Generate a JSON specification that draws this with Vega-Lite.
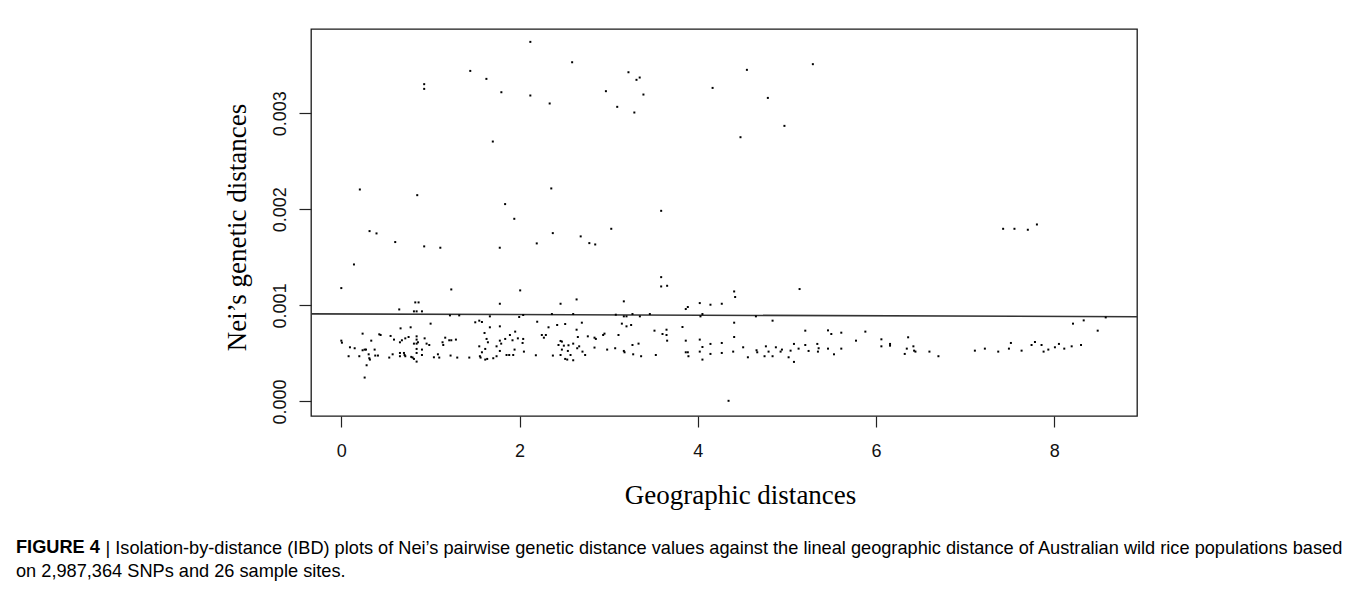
{
  "$schema": "https://vega.github.io/schema/vega-lite/v6.json",
  "autosize": {"type": "none"},
  "padding": {"left": 311, "top": 29, "right": 221, "bottom": 173},
  "width": 826,
  "height": 387,
  "background": "#ffffff",
  "title": {
    "text": "FIGURE 4",
    "subtitle": "on 2,987,364 SNPs and 26 sample sites.",
    "orient": "bottom",
    "anchor": "start",
    "frame": "group",
    "offset": -18,
    "dx": -295,
    "font": "Liberation Sans",
    "fontSize": 18.2,
    "fontWeight": "bold",
    "color": "#000000",
    "subtitleFont": "Liberation Sans",
    "subtitleFontSize": 18.2,
    "subtitleFontWeight": "normal",
    "subtitleColor": "#000000",
    "subtitlePadding": 5.8
  },
  "datasets": {
    "pts": [
      {"g": 2.121, "n": 0.003742}, {"g": 2.590, "n": 0.00353}, {"g": 1.447, "n": 0.00344}, {"g": 1.628, "n": 0.003357},
      {"g": 0.930, "n": 0.003302}, {"g": 0.930, "n": 0.003253}, {"g": 1.796, "n": 0.003218}, {"g": 2.121, "n": 0.003184},
      {"g": 2.338, "n": 0.003101}, {"g": 3.222, "n": 0.003426}, {"g": 3.312, "n": 0.003347}, {"g": 3.348, "n": 0.003371},
      {"g": 2.969, "n": 0.003229}, {"g": 3.390, "n": 0.003194}, {"g": 3.096, "n": 0.003066}, {"g": 3.288, "n": 0.003007},
      {"g": 4.166, "n": 0.003263}, {"g": 4.551, "n": 0.003451}, {"g": 5.291, "n": 0.00351}, {"g": 4.786, "n": 0.003159},
      {"g": 4.972, "n": 0.002868}, {"g": 4.479, "n": 0.00275}, {"g": 1.700, "n": 0.002705}, {"g": 0.208, "n": 0.002206},
      {"g": 0.852, "n": 0.002147}, {"g": 2.356, "n": 0.002217}, {"g": 3.589, "n": 0.001984}, {"g": 1.838, "n": 0.002054},
      {"g": 1.941, "n": 0.001901}, {"g": 0.317, "n": 0.001773}, {"g": 0.395, "n": 0.001749}, {"g": 0.605, "n": 0.001659},
      {"g": 0.930, "n": 0.001614}, {"g": 1.111, "n": 0.0016}, {"g": 1.778, "n": 0.0016}, {"g": 2.193, "n": 0.001645},
      {"g": 2.373, "n": 0.001752}, {"g": 2.686, "n": 0.001718}, {"g": 2.783, "n": 0.001648}, {"g": 2.849, "n": 0.001634},
      {"g": 3.029, "n": 0.001797}, {"g": 7.426, "n": 0.001797}, {"g": 7.553, "n": 0.001797}, {"g": 7.703, "n": 0.001787},
      {"g": 7.805, "n": 0.001842}, {"g": 0.142, "n": 0.001426},
      {"g": 0.0, "n": 0.00118}, {"g": 0.0, "n": 0.000633}, {"g": 0.007, "n": 0.000612}, {"g": 0.082, "n": 0.000471},
      {"g": 0.097, "n": 0.000564}, {"g": 0.150, "n": 0.000554}, {"g": 0.202, "n": 0.000471}, {"g": 0.239, "n": 0.000706},
      {"g": 0.239, "n": 0.000533}, {"g": 0.262, "n": 0.00054}, {"g": 0.277, "n": 0.00054}, {"g": 0.284, "n": 0.000377},
      {"g": 0.262, "n": 0.000249}, {"g": 0.307, "n": 0.000491}, {"g": 0.314, "n": 0.00045}, {"g": 0.321, "n": 0.000436},
      {"g": 0.336, "n": 0.000633}, {"g": 0.374, "n": 0.00054}, {"g": 0.381, "n": 0.000478}, {"g": 0.411, "n": 0.000478},
      {"g": 0.426, "n": 0.000699}, {"g": 0.441, "n": 0.000692}, {"g": 0.538, "n": 0.000457}, {"g": 0.553, "n": 0.000682},
      {"g": 0.576, "n": 0.000491}, {"g": 0.591, "n": 0.000644}, {"g": 0.650, "n": 0.000958}, {"g": 0.658, "n": 0.000616},
      {"g": 0.665, "n": 0.000761}, {"g": 0.658, "n": 0.000505}, {"g": 0.658, "n": 0.000471}, {"g": 0.680, "n": 0.000637},
      {"g": 0.703, "n": 0.000505}, {"g": 0.710, "n": 0.000484}, {"g": 0.718, "n": 0.000471}, {"g": 0.718, "n": 0.000657},
      {"g": 0.755, "n": 0.000671}, {"g": 0.778, "n": 0.000772}, {"g": 0.785, "n": 0.000464}, {"g": 0.800, "n": 0.000457},
      {"g": 0.815, "n": 0.000443}, {"g": 0.830, "n": 0.001031}, {"g": 0.867, "n": 0.001031}, {"g": 0.815, "n": 0.000938},
      {"g": 0.845, "n": 0.000938}, {"g": 0.905, "n": 0.000938}, {"g": 0.815, "n": 0.000602}, {"g": 0.845, "n": 0.000602},
      {"g": 0.845, "n": 0.000678}, {"g": 0.845, "n": 0.000644}, {"g": 0.845, "n": 0.000547}, {"g": 0.845, "n": 0.000505},
      {"g": 0.845, "n": 0.000415}, {"g": 0.860, "n": 0.000616}, {"g": 0.905, "n": 0.00054}, {"g": 0.905, "n": 0.000484},
      {"g": 0.935, "n": 0.000657}, {"g": 0.957, "n": 0.000602}, {"g": 0.987, "n": 0.000588}, {"g": 1.002, "n": 0.00081},
      {"g": 1.039, "n": 0.00046}, {"g": 1.084, "n": 0.000491}, {"g": 1.099, "n": 0.000457}, {"g": 1.136, "n": 0.000616},
      {"g": 1.144, "n": 0.000588}, {"g": 1.166, "n": 0.000664}, {"g": 1.211, "n": 0.000637}, {"g": 1.234, "n": 0.000637},
      {"g": 1.286, "n": 0.000644}, {"g": 1.226, "n": 0.000478}, {"g": 1.234, "n": 0.001166}, {"g": 1.219, "n": 0.000896},
      {"g": 1.323, "n": 0.000896}, {"g": 1.301, "n": 0.000457}, {"g": 1.436, "n": 0.000457}, {"g": 1.503, "n": 0.000824},
      {"g": 1.548, "n": 0.000841}, {"g": 1.578, "n": 0.000827}, {"g": 1.607, "n": 0.000713}, {"g": 1.645, "n": 0.000616},
      {"g": 1.667, "n": 0.000772}, {"g": 1.667, "n": 0.000886}, {"g": 1.630, "n": 0.000651}, {"g": 1.615, "n": 0.000547},
      {"g": 1.548, "n": 0.000574}, {"g": 1.578, "n": 0.000512}, {"g": 1.555, "n": 0.000471}, {"g": 1.563, "n": 0.000457},
      {"g": 1.615, "n": 0.000436}, {"g": 1.637, "n": 0.000443}, {"g": 1.705, "n": 0.00045}, {"g": 1.742, "n": 0.000471},
      {"g": 1.742, "n": 0.000574}, {"g": 1.779, "n": 0.001017}, {"g": 1.779, "n": 0.000782}, {"g": 1.779, "n": 0.000633},
      {"g": 1.779, "n": 0.000526}, {"g": 1.794, "n": 0.000602}, {"g": 1.839, "n": 0.000651}, {"g": 1.854, "n": 0.000484},
      {"g": 1.884, "n": 0.000484}, {"g": 1.929, "n": 0.000484}, {"g": 1.892, "n": 0.000692}, {"g": 1.921, "n": 0.000637},
      {"g": 1.951, "n": 0.000727}, {"g": 1.944, "n": 0.00054}, {"g": 1.981, "n": 0.000657}, {"g": 2.007, "n": 0.001156},
      {"g": 1.996, "n": 0.000879}, {"g": 2.041, "n": 0.0009}, {"g": 2.034, "n": 0.000609}, {"g": 2.041, "n": 0.000651},
      {"g": 2.049, "n": 0.000519}, {"g": 2.183, "n": 0.000481}, {"g": 2.198, "n": 0.00083}, {"g": 2.250, "n": 0.000692},
      {"g": 2.273, "n": 0.000664}, {"g": 2.295, "n": 0.000692}, {"g": 2.325, "n": 0.000772}, {"g": 2.363, "n": 0.00091},
      {"g": 2.374, "n": 0.000478}, {"g": 2.422, "n": 0.000796}, {"g": 2.460, "n": 0.001017}, {"g": 2.437, "n": 0.000588},
      {"g": 2.460, "n": 0.00063}, {"g": 2.475, "n": 0.000623}, {"g": 2.460, "n": 0.000484}, {"g": 2.475, "n": 0.00054},
      {"g": 2.497, "n": 0.000581}, {"g": 2.512, "n": 0.000806}, {"g": 2.512, "n": 0.000443}, {"g": 2.535, "n": 0.000436},
      {"g": 2.542, "n": 0.000526}, {"g": 2.549, "n": 0.000585}, {"g": 2.572, "n": 0.000484}, {"g": 2.602, "n": 0.00091},
      {"g": 2.602, "n": 0.000602}, {"g": 2.602, "n": 0.000429}, {"g": 2.640, "n": 0.001062}, {"g": 2.640, "n": 0.000747},
      {"g": 2.647, "n": 0.000554}, {"g": 2.654, "n": 0.000671}, {"g": 2.669, "n": 0.000574}, {"g": 2.699, "n": 0.00082},
      {"g": 2.706, "n": 0.000519}, {"g": 2.736, "n": 0.000484}, {"g": 2.766, "n": 0.000678}, {"g": 2.841, "n": 0.000664},
      {"g": 2.856, "n": 0.000651}, {"g": 2.841, "n": 0.000561}, {"g": 2.938, "n": 0.000692}, {"g": 2.953, "n": 0.000706},
      {"g": 2.983, "n": 0.00054}, {"g": 3.073, "n": 0.000554}, {"g": 3.080, "n": 0.000903}, {"g": 3.110, "n": 0.000692},
      {"g": 3.148, "n": 0.00081}, {"g": 3.170, "n": 0.001042}, {"g": 3.170, "n": 0.000886}, {"g": 3.200, "n": 0.000886},
      {"g": 3.170, "n": 0.000526}, {"g": 3.178, "n": 0.000512}, {"g": 3.200, "n": 0.000782}, {"g": 3.252, "n": 0.000796},
      {"g": 3.267, "n": 0.00091}, {"g": 3.267, "n": 0.000588}, {"g": 3.275, "n": 0.000491}, {"g": 3.335, "n": 0.000602},
      {"g": 3.350, "n": 0.000886}, {"g": 3.364, "n": 0.000471}, {"g": 3.462, "n": 0.00091}, {"g": 3.514, "n": 0.000737},
      {"g": 3.529, "n": 0.000484}, {"g": 3.589, "n": 0.001294}, {"g": 3.589, "n": 0.001197}, {"g": 3.656, "n": 0.001204},
      {"g": 3.604, "n": 0.000702}, {"g": 3.649, "n": 0.000747}, {"g": 3.649, "n": 0.000692}, {"g": 3.656, "n": 0.000633},
      {"g": 3.828, "n": 0.000775}, {"g": 3.865, "n": 0.000962}, {"g": 3.888, "n": 0.000983}, {"g": 3.865, "n": 0.000633},
      {"g": 3.865, "n": 0.000512}, {"g": 3.888, "n": 0.000512}, {"g": 3.895, "n": 0.000471}, {"g": 4.022, "n": 0.001024},
      {"g": 4.030, "n": 0.000886}, {"g": 4.052, "n": 0.00091}, {"g": 4.022, "n": 0.000644}, {"g": 4.022, "n": 0.000519},
      {"g": 4.052, "n": 0.000567}, {"g": 4.052, "n": 0.000436}, {"g": 4.142, "n": 0.001007}, {"g": 4.142, "n": 0.000599},
      {"g": 4.142, "n": 0.000495}, {"g": 4.269, "n": 0.001017}, {"g": 4.269, "n": 0.000609}, {"g": 4.269, "n": 0.000505},
      {"g": 4.345, "n": 0.000007}, {"g": 4.397, "n": 0.000519}, {"g": 4.408, "n": 0.001145}, {"g": 4.419, "n": 0.001087},
      {"g": 4.408, "n": 0.00082}, {"g": 4.408, "n": 0.000671}, {"g": 4.509, "n": 0.000564}, {"g": 4.562, "n": 0.00046},
      {"g": 4.652, "n": 0.000886}, {"g": 4.659, "n": 0.000533}, {"g": 4.667, "n": 0.000512}, {"g": 4.749, "n": 0.000471},
      {"g": 4.764, "n": 0.000574}, {"g": 4.794, "n": 0.000519}, {"g": 4.839, "n": 0.000841}, {"g": 4.839, "n": 0.000471},
      {"g": 4.876, "n": 0.000564}, {"g": 4.929, "n": 0.000519}, {"g": 4.944, "n": 0.00054}, {"g": 5.019, "n": 0.00046},
      {"g": 5.041, "n": 0.000529}, {"g": 5.079, "n": 0.000599}, {"g": 5.079, "n": 0.000412}, {"g": 5.131, "n": 0.00055},
      {"g": 5.142, "n": 0.00117}, {"g": 5.206, "n": 0.000737}, {"g": 5.206, "n": 0.000588}, {"g": 5.243, "n": 0.000526},
      {"g": 5.341, "n": 0.000599}, {"g": 5.348, "n": 0.000519}, {"g": 5.356, "n": 0.000554}, {"g": 5.461, "n": 0.00074},
      {"g": 5.498, "n": 0.000702}, {"g": 5.461, "n": 0.00055}, {"g": 5.528, "n": 0.000491}, {"g": 5.610, "n": 0.000716},
      {"g": 5.610, "n": 0.00055}, {"g": 5.775, "n": 0.000633}, {"g": 5.880, "n": 0.000727}, {"g": 6.060, "n": 0.000647},
      {"g": 6.060, "n": 0.000574}, {"g": 6.157, "n": 0.000599}, {"g": 6.157, "n": 0.000581}, {"g": 6.322, "n": 0.000495},
      {"g": 6.345, "n": 0.00055}, {"g": 6.360, "n": 0.000668}, {"g": 6.419, "n": 0.000574}, {"g": 6.427, "n": 0.000529},
      {"g": 6.442, "n": 0.000519}, {"g": 6.599, "n": 0.000519}, {"g": 6.700, "n": 0.000471}, {"g": 7.109, "n": 0.000529},
      {"g": 7.221, "n": 0.00055}, {"g": 7.371, "n": 0.000519}, {"g": 7.491, "n": 0.00055}, {"g": 7.513, "n": 0.000609},
      {"g": 7.633, "n": 0.000529}, {"g": 7.745, "n": 0.000588}, {"g": 7.783, "n": 0.000619}, {"g": 7.857, "n": 0.000588},
      {"g": 7.880, "n": 0.000519}, {"g": 7.933, "n": 0.00054}, {"g": 8.007, "n": 0.000564}, {"g": 8.052, "n": 0.000599},
      {"g": 8.112, "n": 0.00055}, {"g": 8.195, "n": 0.000574}, {"g": 8.210, "n": 0.00081}, {"g": 8.300, "n": 0.000588},
      {"g": 8.330, "n": 0.000844}, {"g": 8.487, "n": 0.000737}, {"g": 8.577, "n": 0.000875}
    ],
    "fit": [
      {"g": -0.34, "n": 0.000912},
      {"g": 8.928, "n": 0.000882}
    ]
  },
  "resolve": {"axis": {"x": "independent"}},
  "layer": [
    {
      "data": {"name": "fit"},
      "mark": {"type": "line", "color": "#333333", "strokeWidth": 1.6, "clip": true},
      "encoding": {
        "x": {
          "field": "g", "type": "quantitative",
          "axis": {
            "orient": "bottom",
            "labels": false, "ticks": false, "domain": false,
            "title": "| Isolation-by-distance (IBD) plots of Nei’s pairwise genetic distance values against the lineal geographic distance of Australian wild rice populations based",
            "titleX": -206, "titleY": 137.4, "titleAlign": "left", "titleBaseline": "alphabetic", "titleAngle": 0,
            "titleFont": "Liberation Sans", "titleFontSize": 18.2, "titleFontWeight": "normal", "titleColor": "#000000"
          }
        },
        "y": {"field": "n", "type": "quantitative"}
      }
    },
    {
      "data": {"name": "pts"},
      "mark": {"type": "point", "shape": "square", "filled": true, "size": 4, "color": "#000000", "opacity": 1, "strokeWidth": 0},
      "encoding": {
        "x": {
          "field": "g", "type": "quantitative",
          "scale": {"domain": [-0.34, 8.928], "nice": false, "zero": false},
          "axis": {
            "orient": "bottom",
            "values": [0, 2, 4, 6, 8],
            "format": "d",
            "title": "Geographic distances",
            "titleX": 429, "titleY": 87, "titleAlign": "center", "titleBaseline": "alphabetic",
            "titleFont": "Liberation Serif", "titleFontSize": 27, "titleFontWeight": "normal", "titleColor": "#000000",
            "labelPadding": 15, "labelBaseline": "top", "labelAlign": "center"
          }
        },
        "y": {
          "field": "n", "type": "quantitative",
          "scale": {"domain": [-0.000151, 0.003876], "nice": false, "zero": false},
          "axis": {
            "values": [0, 0.001, 0.002, 0.003],
            "format": ".3f",
            "title": "Nei’s genetic distances",
            "titleX": -66, "titleY": 198, "titleAngle": -90, "titleAlign": "center", "titleBaseline": "alphabetic",
            "titleFont": "Liberation Serif", "titleFontSize": 27, "titleFontWeight": "normal", "titleColor": "#000000",
            "labelAngle": -90, "labelAlign": "center", "labelBaseline": "bottom", "labelPadding": 10,
            "tickSize": 12
          }
        }
      }
    }
  ],
  "config": {
    "view": {"stroke": "#1a1a1a", "strokeWidth": 1.3},
    "axis": {
      "domain": false, "grid": false,
      "ticks": true, "tickColor": "#222222", "tickWidth": 1.2, "tickSize": 11,
      "labelFont": "Liberation Sans", "labelFontSize": 18, "labelColor": "#111111"
    }
  }
}
